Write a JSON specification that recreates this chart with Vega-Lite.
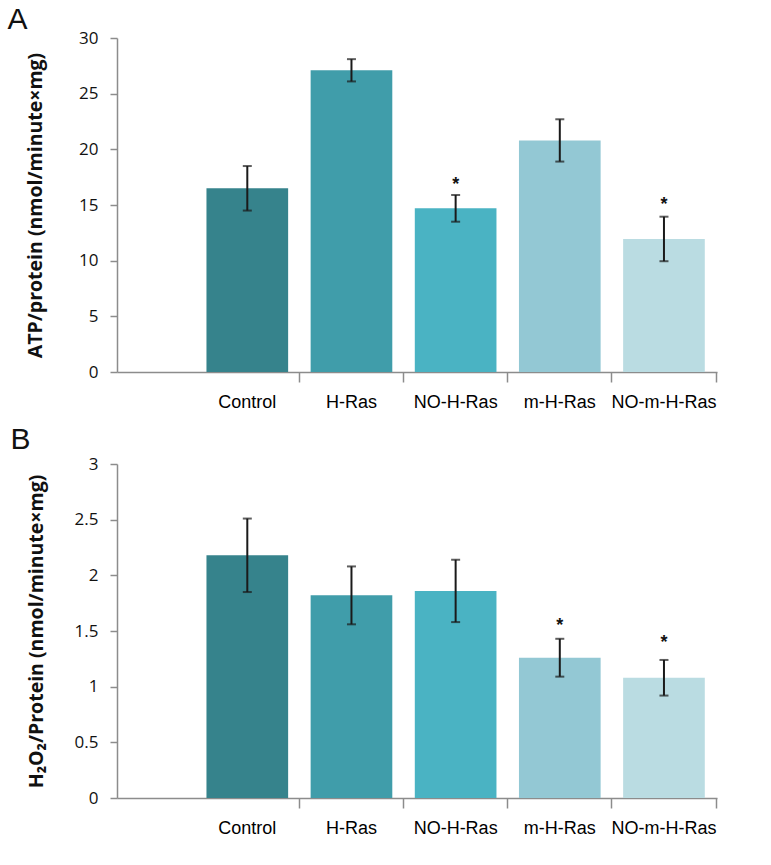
{
  "$schema": "https://vega.github.io/schema/vega-lite/v6.json",
  "background": "white",
  "padding": {"left": 7, "top": 5, "right": 5, "bottom": 5},
  "spacing": 14,
  "config": {
    "view": {"stroke": null},
    "axis": {"domainColor": "#8c8c8c", "domainWidth": 1.5, "tickColor": "#8c8c8c", "tickWidth": 1.5, "grid": false, "labelColor": "#111111", "titleColor": "#111111"},
    "title": {"font": "Liberation Sans", "fontSize": 30, "fontWeight": "normal", "anchor": "start", "frame": "group", "color": "#111111"}
  },
  "datasets": {
    "atp": [
      {"group": "Control", "mean": 16.5, "lo": 14.5, "hi": 18.5, "star": null},
      {"group": "H-Ras", "mean": 27.1, "lo": 26.1, "hi": 28.1, "star": null},
      {"group": "NO-H-Ras", "mean": 14.7, "lo": 13.5, "hi": 15.9, "star": 17.25},
      {"group": "m-H-Ras", "mean": 20.8, "lo": 18.9, "hi": 22.7, "star": null},
      {"group": "NO-m-H-Ras", "mean": 11.95, "lo": 9.95, "hi": 13.95, "star": 15.45}
    ],
    "h2o2": [
      {"group": "Control", "mean": 2.18, "lo": 1.85, "hi": 2.51, "star": null},
      {"group": "H-Ras", "mean": 1.82, "lo": 1.56, "hi": 2.08, "star": null},
      {"group": "NO-H-Ras", "mean": 1.86, "lo": 1.58, "hi": 2.14, "star": null},
      {"group": "m-H-Ras", "mean": 1.26, "lo": 1.09, "hi": 1.43, "star": 1.59},
      {"group": "NO-m-H-Ras", "mean": 1.08, "lo": 0.92, "hi": 1.24, "star": 1.44}
    ]
  },
  "vconcat": [
    {
      "width": 600,
      "height": 334,
      "title": {"text": "A", "dx": -109.5, "offset": -6},
      "data": {"name": "atp"},
      "encoding": {
        "x": {
          "field": "group", "type": "nominal",
          "sort": ["Control", "H-Ras", "NO-H-Ras", "m-H-Ras", "NO-m-H-Ras"],
          "scale": {"domain": ["Control", "H-Ras", "NO-H-Ras", "m-H-Ras", "NO-m-H-Ras"], "paddingInner": 0.216, "paddingOuter": 0.488, "align": 0.88},
          "axis": {"title": null, "labelAngle": 0, "labelFont": "Liberation Sans", "labelFontSize": 18, "labelColor": "#000000", "labelPadding": 11, "tickSize": 10, "bandPosition": 1.138}
        }
      },
      "layer": [
        {
          "mark": {"type": "bar"},
          "encoding": {
            "y": {"field": "mean", "type": "quantitative", "scale": {"domain": [0, 30], "nice": false},
                  "title": "ATP/protein (nmol/minute×mg)",
                  "axis": {"values": [0, 5, 10, 15, 20, 25, 30], "labelFont": "Open Sans", "labelFontSize": 17, "labelPadding": 12, "tickSize": 7,
                           "titleFont": "Open Sans", "titleFontSize": 19.5, "titleFontWeight": "bold", "titlePadding": 33}},
            "color": {"field": "group", "type": "nominal", "legend": null,
                      "scale": {"domain": ["Control", "H-Ras", "NO-H-Ras", "m-H-Ras", "NO-m-H-Ras"], "range": ["#36838C", "#409DAA", "#4AB3C3", "#93C8D4", "#BADCE2"]}}
          }
        },
        {
          "mark": {"type": "rule", "color": "#1a1a1a", "strokeWidth": 2},
          "encoding": {"y": {"field": "lo", "type": "quantitative", "title": "ATP/protein (nmol/minute×mg)"}, "y2": {"field": "hi"}}
        },
        {
          "mark": {"type": "tick", "color": "#1a1a1a", "thickness": 2, "size": 9},
          "encoding": {"y": {"field": "lo", "type": "quantitative", "title": "ATP/protein (nmol/minute×mg)"}}
        },
        {
          "mark": {"type": "tick", "color": "#1a1a1a", "thickness": 2, "size": 9},
          "encoding": {"y": {"field": "hi", "type": "quantitative", "title": "ATP/protein (nmol/minute×mg)"}}
        },
        {
          "transform": [{"filter": "datum.star != null"}],
          "mark": {"type": "text", "text": "*", "font": "Liberation Sans", "fontSize": 18, "fontWeight": "bold", "baseline": "alphabetic", "dy": 10, "color": "#111111"},
          "encoding": {"y": {"field": "star", "type": "quantitative", "title": "ATP/protein (nmol/minute×mg)"}}
        }
      ]
    },
    {
      "width": 600,
      "height": 334,
      "title": {"text": "B", "dx": -106.5, "offset": 0},
      "data": {"name": "h2o2"},
      "encoding": {
        "x": {
          "field": "group", "type": "nominal",
          "sort": ["Control", "H-Ras", "NO-H-Ras", "m-H-Ras", "NO-m-H-Ras"],
          "scale": {"domain": ["Control", "H-Ras", "NO-H-Ras", "m-H-Ras", "NO-m-H-Ras"], "paddingInner": 0.216, "paddingOuter": 0.488, "align": 0.88},
          "axis": {"title": null, "labelAngle": 0, "labelFont": "Liberation Sans", "labelFontSize": 18, "labelColor": "#000000", "labelPadding": 11, "tickSize": 10, "bandPosition": 1.138}
        }
      },
      "layer": [
        {
          "mark": {"type": "bar"},
          "encoding": {
            "y": {"field": "mean", "type": "quantitative", "scale": {"domain": [0, 3], "nice": false},
                  "title": "H₂O₂/Protein (nmol/minute×mg)",
                  "axis": {"values": [0, 0.5, 1, 1.5, 2, 2.5, 3], "format": "~g", "labelFont": "Open Sans", "labelFontSize": 17, "labelPadding": 12, "tickSize": 7,
                           "titleFont": "Open Sans", "titleFontSize": 19.5, "titleFontWeight": "bold", "titlePadding": 28}},
            "color": {"field": "group", "type": "nominal", "legend": null,
                      "scale": {"domain": ["Control", "H-Ras", "NO-H-Ras", "m-H-Ras", "NO-m-H-Ras"], "range": ["#36838C", "#409DAA", "#4AB3C3", "#93C8D4", "#BADCE2"]}}
          }
        },
        {
          "mark": {"type": "rule", "color": "#1a1a1a", "strokeWidth": 2},
          "encoding": {"y": {"field": "lo", "type": "quantitative", "title": "H₂O₂/Protein (nmol/minute×mg)"}, "y2": {"field": "hi"}}
        },
        {
          "mark": {"type": "tick", "color": "#1a1a1a", "thickness": 2, "size": 9},
          "encoding": {"y": {"field": "lo", "type": "quantitative", "title": "H₂O₂/Protein (nmol/minute×mg)"}}
        },
        {
          "mark": {"type": "tick", "color": "#1a1a1a", "thickness": 2, "size": 9},
          "encoding": {"y": {"field": "hi", "type": "quantitative", "title": "H₂O₂/Protein (nmol/minute×mg)"}}
        },
        {
          "transform": [{"filter": "datum.star != null"}],
          "mark": {"type": "text", "text": "*", "font": "Liberation Sans", "fontSize": 18, "fontWeight": "bold", "baseline": "alphabetic", "dy": 10, "color": "#111111"},
          "encoding": {"y": {"field": "star", "type": "quantitative", "title": "H₂O₂/Protein (nmol/minute×mg)"}}
        }
      ]
    }
  ]
}
